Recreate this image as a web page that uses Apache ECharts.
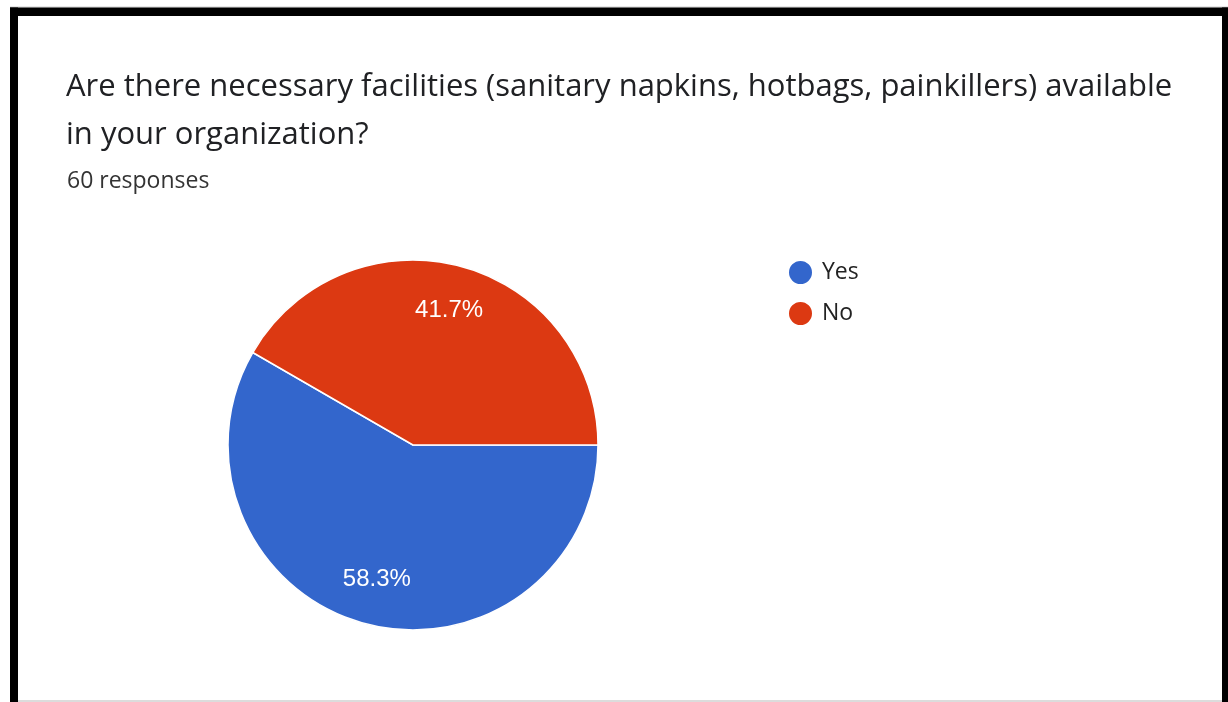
<!DOCTYPE html>
<html>
<head>
<meta charset="utf-8">
<script src="https://cdn.jsdelivr.net/npm/echarts@6/dist/echarts.min.js"></script>
<style>
  html, body { margin: 0; padding: 0; background: #fff; }
  #chart { width: 1228px; height: 702px; }
</style>
</head>
<body>
<div id="chart"></div>
<script>
// Survey answers
const questionLines = [
  'Are there necessary facilities (sanitary napkins, hotbags, painkillers) available',
  'in your organization?'
];
const responseNote = '60 responses';
const answers = ['Yes', 'No'];
const answerCounts = [35, 25];
const answerColors = ['#3366cc', '#dc3912'];

const total = answerCounts.reduce((a, b) => a + b, 0);
const pieData = answers.map((name, i) => ({ name, value: answerCounts[i] }));

const chart = echarts.init(document.getElementById('chart'), null, { renderer: 'canvas' });

const center = [413, 445];
const radius = 185;

chart.setOption({
  backgroundColor: '#ffffff',
  animation: false,
  color: answerColors,
  title: [
    {
      text: questionLines.join('\n'),
      left: 66,
      top: 63,
      padding: 0,
      textStyle: {
        fontFamily: 'Open Sans',
        fontSize: 31,
        fontWeight: 'normal',
        color: '#202124',
        lineHeight: 48
      }
    },
    {
      text: responseNote,
      left: 67,
      top: 167,
      padding: 0,
      textStyle: {
        fontFamily: 'Open Sans',
        fontSize: 23,
        fontWeight: 'normal',
        color: '#333333',
        lineHeight: 28
      }
    }
  ],
  legend: {
    data: answers,
    orient: 'vertical',
    left: 787,
    top: 259,
    padding: 0,
    icon: 'circle',
    itemWidth: 25,
    itemHeight: 25,
    itemGap: 14,
    selectedMode: false,
    textStyle: {
      fontFamily: 'Open Sans',
      fontSize: 23,
      color: '#222222',
      padding: [0, 0, 0, 4]
    }
  },
  series: [
    {
      type: 'pie',
      center: center,
      radius: [0, radius],
      startAngle: 0,
      clockwise: true,
      silent: true,
      label: { show: false },
      labelLine: { show: false },
      itemStyle: { borderColor: '#ffffff', borderWidth: 1.5 },
      emphasis: { disabled: true },
      data: pieData
    },
    {
      // transparent ring that only carries the percentage labels
      type: 'pie',
      center: center,
      radius: [88, radius],
      startAngle: 0,
      clockwise: true,
      silent: true,
      legendHoverLink: false,
      itemStyle: { color: 'rgba(0,0,0,0)', borderWidth: 0 },
      labelLine: { show: false },
      emphasis: { disabled: true },
      label: {
        show: true,
        position: 'inside',
        fontFamily: 'Liberation Sans, Arial',
        fontSize: 24,
        color: '#ffffff',
        formatter: p => (p.value / total * 100).toFixed(1) + '%'
      },
      data: pieData
    }
  ],
  graphic: [
    // frame around the card
    { type: 'rect', silent: true, shape: { x: 10, y: 6.5, width: 1218, height: 1 }, style: { fill: '#d0d0d0' } },
    { type: 'rect', silent: true, shape: { x: 10, y: 7.5, width: 1218, height: 8.5 }, style: { fill: '#000000' } },
    { type: 'rect', silent: true, shape: { x: 10, y: 7.5, width: 8, height: 695 }, style: { fill: '#000000' } },
    { type: 'rect', silent: true, shape: { x: 1222, y: 7.5, width: 6, height: 695 }, style: { fill: '#000000' } },
    { type: 'rect', silent: true, shape: { x: 18, y: 700, width: 1204, height: 2 }, style: { fill: '#dcdcdc' } }
  ]
});
</script>
</body>
</html>
